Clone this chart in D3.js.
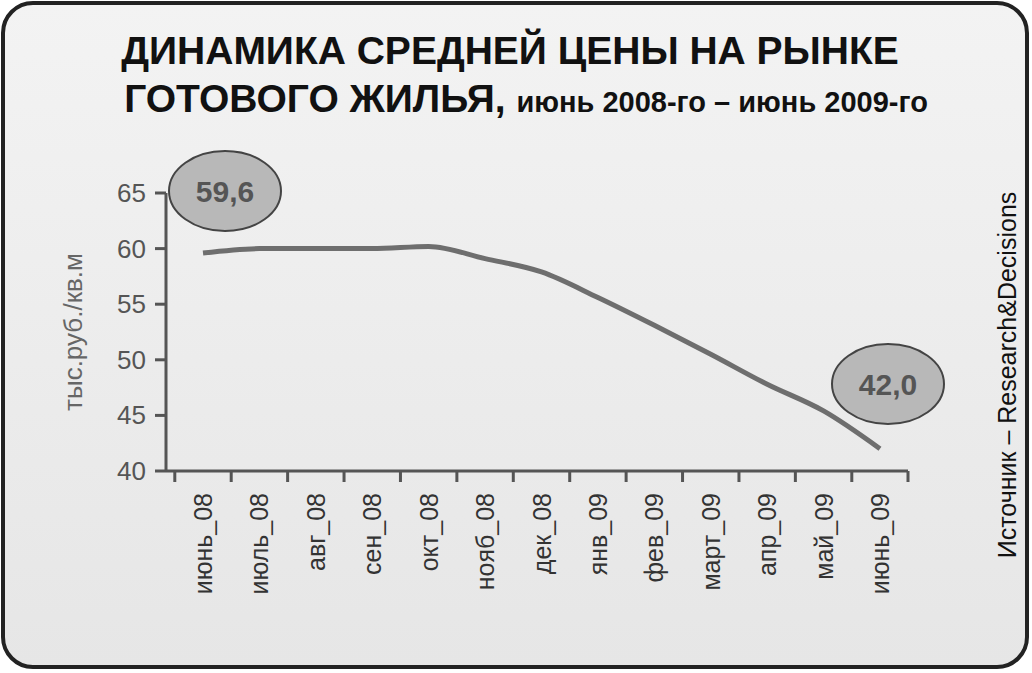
<!DOCTYPE html>
<html><head><meta charset="utf-8">
<script src="https://cdn.jsdelivr.net/npm/d3@7"></script>
<style>body{margin:0;background:#fff;}</style>
</head><body>
<script>
var months = ["июнь_08","июль_08","авг_08","сен_08","окт_08","нояб_08","дек_08","янв_09","фев_09","март_09","апр_09","май_09","июнь_09"];
var prices = [59.6,60.0,60.0,60.0,60.2,59.1,57.9,55.6,53.1,50.5,47.8,45.4,42.0];
var yTicks = [40,45,50,55,60,65];

var svg = d3.select("body").append("svg").attr("width",1032).attr("height",673);
var defs = svg.append("defs");
var grad = defs.append("linearGradient").attr("id","bg").attr("x1",0).attr("y1",0).attr("x2",0).attr("y2",1);
grad.append("stop").attr("offset","0%").attr("stop-color","#f3f3f3");
grad.append("stop").attr("offset","100%").attr("stop-color","#e6e6e6");
svg.append("rect").attr("x",3).attr("y",3).attr("width",1024).attr("height",664).attr("rx",30)
  .attr("fill","url(#bg)").attr("stroke","#222").attr("stroke-width",4);

svg.append("text").attr("x",510).attr("y",64).attr("text-anchor","middle")
  .attr("font-family","Liberation Sans").attr("font-weight","bold").attr("font-size",39).attr("fill","#111")
  .text("ДИНАМИКА СРЕДНЕЙ ЦЕНЫ НА РЫНКЕ");
var t2 = svg.append("text").attr("x",526).attr("y",112).attr("text-anchor","middle")
  .attr("font-family","Liberation Sans").attr("font-weight","bold").attr("fill","#111");
t2.append("tspan").attr("font-size",39).text("ГОТОВОГО ЖИЛЬЯ, ");
t2.append("tspan").attr("font-size",29).text("июнь 2008-го – июнь 2009-го");

var pLeft = 166, pRight = 908, pTop = 193, pBottom = 471;
var x = d3.scalePoint().domain(months).range([203,880]);
var y = d3.scaleLinear().domain([40,65]).range([pBottom,pTop]);
var g = svg.append("g");

g.append("line").attr("x1",pLeft).attr("x2",pLeft).attr("y1",pTop).attr("y2",pBottom).attr("stroke","#555").attr("stroke-width",3);
g.append("line").attr("x1",pLeft).attr("x2",pRight).attr("y1",pBottom).attr("y2",pBottom).attr("stroke","#555").attr("stroke-width",3);

yTicks.forEach(function(v){
  g.append("line").attr("x1",pLeft-11).attr("x2",pLeft).attr("y1",y(v)).attr("y2",y(v)).attr("stroke","#555").attr("stroke-width",3);
  g.append("text").attr("x",pLeft-20).attr("y",y(v)+9).attr("text-anchor","end")
    .attr("font-family","Liberation Sans").attr("font-size",26).attr("fill","#555").text(v);
});
var step = x.step();
months.forEach(function(m){
  var tx = x(m) - step/2;
  g.append("line").attr("x1",tx).attr("x2",tx).attr("y1",pBottom).attr("y2",pBottom+11).attr("stroke","#555").attr("stroke-width",3);
  g.append("text").attr("transform","translate("+(x(m)+9)+","+(pBottom+22)+") rotate(-90)")
    .attr("text-anchor","end").attr("font-family","Liberation Sans").attr("font-size",25).attr("fill","#333").text(m);
});
g.append("line").attr("x1",pRight).attr("x2",pRight).attr("y1",pBottom).attr("y2",pBottom+11).attr("stroke","#555").attr("stroke-width",3);

svg.append("text").attr("transform","translate(82,"+((pTop+pBottom)/2)+") rotate(-90)")
  .attr("text-anchor","middle").attr("font-family","Liberation Sans").attr("font-size",26).attr("fill","#666").text("тыс.руб./кв.м");

var line = d3.line().x(function(d,i){return x(months[i]);}).y(function(d){return y(d);}).curve(d3.curveMonotoneX);
svg.append("path").datum(prices).attr("d",line).attr("fill","none").attr("stroke","#6e6e6e").attr("stroke-width",5);

function bubble(cx,cy,txt){
  svg.append("ellipse").attr("cx",cx).attr("cy",cy).attr("rx",56).attr("ry",40).attr("fill","#b8b8b8").attr("stroke","#444").attr("stroke-width",2);
  svg.append("text").attr("x",cx).attr("y",cy+11).attr("text-anchor","middle").attr("font-family","Liberation Sans")
    .attr("font-weight","bold").attr("font-size",30).attr("fill","#555").text(txt);
}
bubble(225,191,"59,6");
bubble(888,384,"42,0");

svg.append("text").attr("transform","translate(1016,375) rotate(-90)").attr("text-anchor","middle")
  .attr("font-family","Liberation Sans").attr("font-size",25).attr("fill","#111").text("Источник – Research&Decisions");
</script>
</body></html>
